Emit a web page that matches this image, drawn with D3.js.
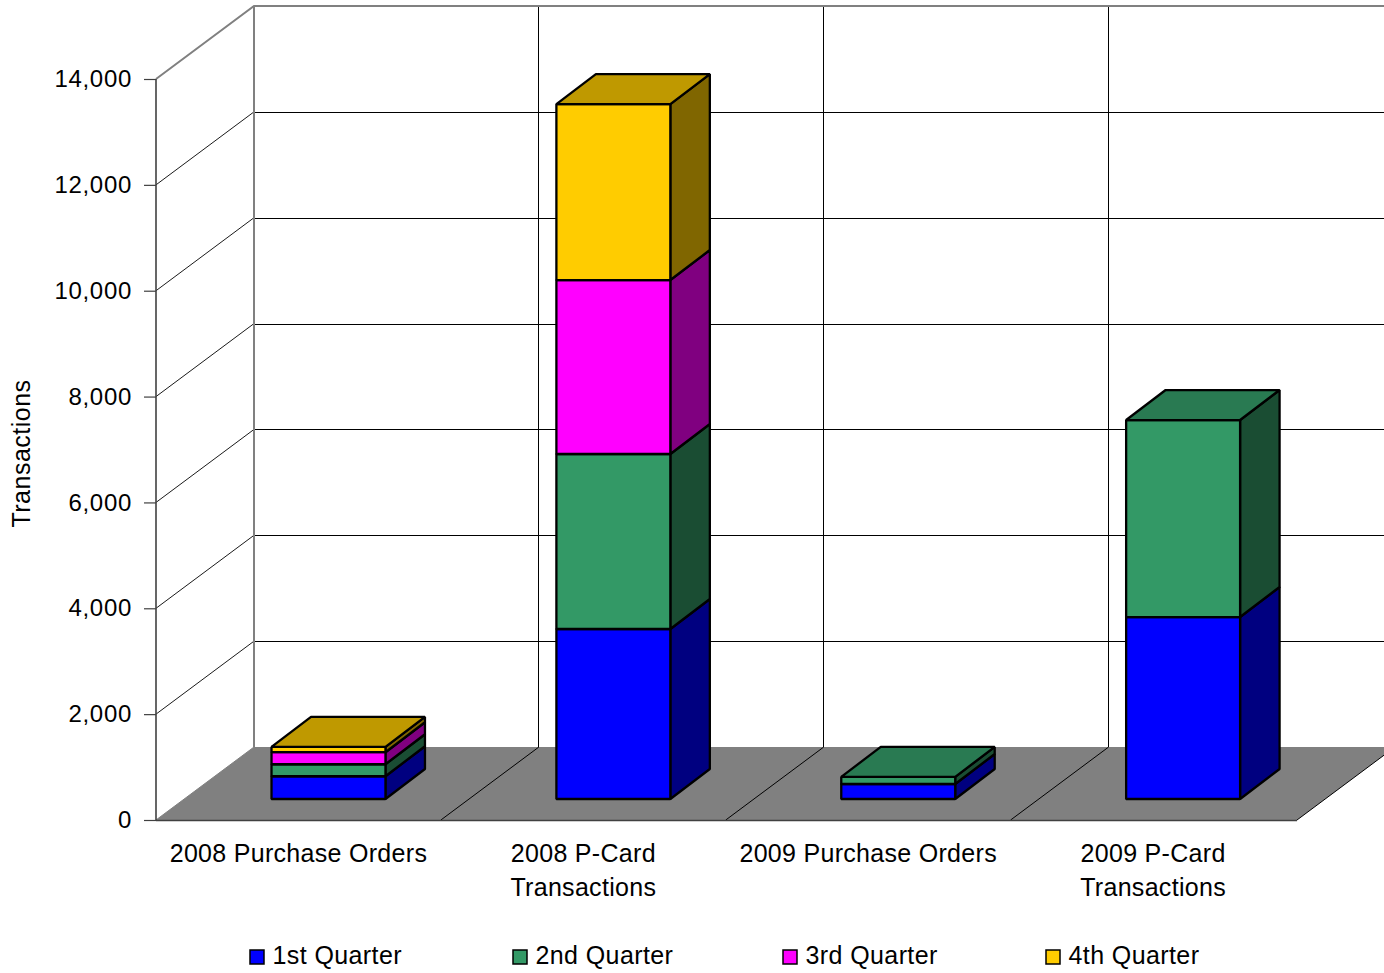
<!DOCTYPE html>
<html><head><meta charset="utf-8">
<script src="https://cdn.jsdelivr.net/npm/d3@7"></script>
<style>html,body{margin:0;padding:0;background:#fff}svg{display:block}text{font-family:"Liberation Sans",Arial,sans-serif;fill:#000}</style>
</head><body><svg id="c" width="1384" height="973"></svg>
<script>
const categories = ["2008 Purchase Orders", "2008 P-Card Transactions", "2009 Purchase Orders", "2009 P-Card Transactions"];
const categoryLines = [["2008 Purchase Orders"], ["2008 P-Card", "Transactions"], ["2009 Purchase Orders"], ["2009 P-Card", "Transactions"]];
const seriesNames = ["1st Quarter", "2nd Quarter", "3rd Quarter", "4th Quarter"];
const q1 = [430, 3212, 283, 3438];
const q2 = [227, 3306, 135, 3722];
const q3 = [227, 3287, 0, 0];
const q4 = [100, 3325, 0, 0];
const tickValues = [0, 2000, 4000, 6000, 8000, 10000, 12000, 14000];
const front = ["#0000FF", "#339966", "#FF00FF", "#FFCC00"];
const side = ["#000080", "#1A4D33", "#800080", "#806600"];
const top_ = ["#0000C0", "#297A52", "#C000C0", "#BF9900"];

const svg = d3.select("#c");
const DX = 98, DY = 73;          // depth of the chart box
const bdx = 39.5, bdy = 30;      // depth of a bar
const baseLift = 21;             // bars stand inside the floor

const y = d3.scaleLinear().domain([0, 14000]).range([820, 79]);
const x = d3.scaleBand().domain(categories).range([156, 1295.5]);
const bw = x.bandwidth();
const barLeft = c => x(c) + bw * 0.4055;
const barW = bw * 0.4;
const x0 = x.range()[0], x1 = 1297;
const y0 = y(0), yTop = y(14000);
const wallColor = "#808080", gridColor = "#000";

// floor
svg.append("polygon").attr("fill", "#808080")
  .attr("points", [[x0, y0], [x0 + DX, y0 - DY], [x1 + DX, y0 - DY], [x1, y0]].join(" "));

// back wall gridlines
svg.append("g").attr("shape-rendering", "crispEdges").selectAll("line")
  .data(tickValues.filter(d => d > 0 && d < 14000)).join("line")
  .attr("x1", x0 + DX).attr("x2", x1 + DX)
  .attr("y1", d => y(d) - DY + 0.5).attr("y2", d => y(d) - DY + 0.5)
  .attr("stroke", gridColor).attr("stroke-width", 1);

// side wall gridlines
svg.append("g").selectAll("line").data(tickValues.filter(d => d > 0 && d < 14000)).join("line")
  .attr("x1", x0).attr("x2", x0 + DX)
  .attr("y1", d => y(d)).attr("y2", d => y(d) - DY)
  .attr("stroke", gridColor).attr("stroke-width", 0.9);

// back wall verticals and floor diagonals
const bounds = categories.map(c => x(c)).concat([x1]);
svg.append("g").attr("shape-rendering", "crispEdges").selectAll("line").data(bounds.slice(1, 4)).join("line")
  .attr("x1", d => d + DX).attr("x2", d => d + DX)
  .attr("y1", yTop - DY).attr("y2", y0 - DY)
  .attr("stroke", gridColor).attr("stroke-width", 1);
svg.append("g").selectAll("line").data(bounds.slice(1)).join("line")
  .attr("x1", d => d).attr("x2", d => d + DX)
  .attr("y1", y0).attr("y2", y0 - DY)
  .attr("stroke", gridColor).attr("stroke-width", 1);

// wall outline
svg.append("path").attr("fill", "none").attr("stroke", wallColor).attr("stroke-width", 2)
  .attr("d", `M${x0},${yTop}L${x0 + DX},${yTop - DY}L${x1 + DX},${yTop - DY}M${x0 + DX},${yTop - DY}L${x0 + DX},${y0 - DY}`);
svg.append("line").attr("x1", x0).attr("x2", x0 + DX).attr("y1", y0).attr("y2", y0 - DY)
  .attr("stroke", wallColor).attr("stroke-width", 1);

// front axes
const axisY = d3.axisLeft(y).tickValues(tickValues).tickSize(12).tickPadding(12).tickFormat(d3.format(","));
const gy = svg.append("g").attr("transform", `translate(${x0},0)`).call(axisY);
gy.select(".domain").attr("stroke", "#404040").attr("stroke-width", 1.6).attr("d", `M0,${yTop}V${y0}`);
gy.selectAll(".tick line").attr("stroke", "#404040").attr("stroke-width", 1.2);
gy.selectAll("text").attr("font-size", 24).attr("fill", "#000").attr("letter-spacing", 0.7)
  .attr("font-family", '"Liberation Sans",Arial,sans-serif');
svg.append("line").attr("x1", x0).attr("x2", x1).attr("y1", y0 + 0.5).attr("y2", y0 + 0.5)
  .attr("stroke", "#404040").attr("stroke-width", 1.6);

// bars
const rows = categories.map((c, i) => ({cat: c, q1: q1[i], q2: q2[i], q3: q3[i], q4: q4[i]}));
const stacked = d3.stack().keys(["q1", "q2", "q3", "q4"])(rows);
const yb = v => y(v) - baseLift;
const bars = svg.append("g").attr("stroke", "#000").attr("stroke-width", 2.3).attr("stroke-linejoin", "bevel");
categories.forEach((c, ci) => {
  const left = barLeft(c), right = left + barW;
  const segs = stacked.map((s, si) => ({lo: s[ci][0], hi: s[ci][1], si})).filter(d => d.hi > d.lo);
  segs.forEach(d => {
    bars.append("polygon").attr("fill", side[d.si]).attr("points", [
      [right, yb(d.lo)], [right + bdx, yb(d.lo) - bdy], [right + bdx, yb(d.hi) - bdy], [right, yb(d.hi)]].join(" "));
    bars.append("rect").attr("fill", front[d.si])
      .attr("x", left).attr("width", barW).attr("y", yb(d.hi)).attr("height", yb(d.lo) - yb(d.hi));
  });
  const t = segs[segs.length - 1];
  bars.append("polygon").attr("fill", top_[t.si]).attr("points", [
    [left, yb(t.hi)], [left + bdx, yb(t.hi) - bdy], [right + bdx, yb(t.hi) - bdy], [right, yb(t.hi)]].join(" "));
});

// category labels
const labels = svg.append("g").attr("font-size", 25).attr("text-anchor", "middle").attr("letter-spacing", 0.3);
categories.forEach((c, i) => {
  const t = labels.append("text").attr("y", 862);
  categoryLines[i].forEach((l, j) => t.append("tspan")
    .attr("x", x(c) + bw / 2).attr("y", 862 + j * 34).text(l));
});

// y-axis title
svg.append("text").attr("transform", "translate(30,453.5) rotate(-90)")
  .attr("text-anchor", "middle").attr("font-size", 25).attr("letter-spacing", 0.5).text("Transactions");

// legend
const legendX = d3.scaleOrdinal().domain(seriesNames).range([250, 513, 783, 1046]);
const lg = svg.append("g").selectAll("g").data(seriesNames).join("g")
  .attr("transform", d => `translate(${legendX(d)},0)`);
lg.append("rect").attr("y", 950).attr("width", 14).attr("height", 14)
  .attr("fill", (d, i) => front[i]).attr("stroke", "#000").attr("stroke-width", 1.5);
lg.append("text").attr("x", 22.5).attr("y", 964).attr("font-size", 25).attr("letter-spacing", 0.4).text(d => d);
</script></body></html>
